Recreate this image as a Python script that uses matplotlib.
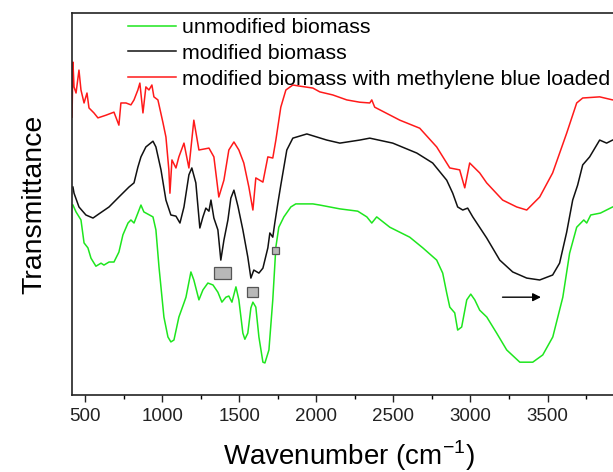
import numpy as np
import matplotlib.pyplot as plt
from matplotlib.patches import Rectangle

plt.rcParams['font.family'] = ['Liberation Sans', 'DejaVu Sans']
plt.rcParams['mathtext.fontset'] = 'custom'
plt.rcParams['mathtext.rm'] = 'Liberation Sans'

# 未改性生物质 (unmodified biomass)
wn_raw = [422, 442, 474, 494, 519, 539, 571, 604, 623, 656, 688, 720, 746, 779, 798, 818,
          843, 863, 882, 941, 960, 980, 1012, 1038, 1057, 1077, 1109, 1142, 1155, 1187, 1206,
          1239, 1265, 1297, 1330, 1362, 1388, 1414, 1433, 1453, 1479, 1498, 1524, 1537, 1556,
          1576, 1589, 1608, 1628, 1654, 1667, 1693, 1718, 1738, 1757, 1790, 1835, 1867, 1978,
          2023, 2153, 2269, 2328, 2360, 2392, 2477, 2606, 2691, 2781, 2820, 2846, 2866, 2898,
          2917, 2943, 2976, 3002, 3028, 3060, 3106, 3170, 3235, 3320, 3404, 3469, 3534, 3599,
          3643, 3689, 3735, 3754, 3780, 3843, 3922, 4000]
t_raw = [49.7, 47.9, 45.8, 39.8, 38.5, 35.8, 33.7, 34.5, 34.0, 34.8, 34.8, 37.4, 41.9, 45.0,
         45.8, 45.0, 47.6, 49.7, 47.9, 46.6, 43.2, 33.5, 20.4, 15.2, 13.9, 14.4, 20.4, 24.1,
         25.6, 32.2, 30.1, 24.9, 27.5, 29.3, 28.8, 26.9, 24.3, 25.6, 25.9, 24.3, 28.3, 24.9,
         16.2, 14.6, 16.2, 22.8, 24.3, 23.0, 15.2, 8.6, 8.4, 11.8, 24.9, 38.7, 43.9, 46.6,
         49.2, 50.0, 50.0, 49.7, 48.7, 48.1, 46.6, 45.0, 46.6, 43.9, 41.3, 38.5, 35.3, 31.9,
         26.7, 23.0, 21.5, 17.0, 17.8, 24.9, 26.4, 24.9, 22.2, 20.4, 16.2, 11.8, 8.6, 8.6,
         10.5, 15.2, 25.6, 37.1, 43.9, 45.8, 45.0, 47.1, 47.6, 49.2, 50.2]

# 改性生物质 (modified biomass)
wn_mod = [422, 429, 461, 506, 552, 591, 656, 720, 785, 818, 843, 863, 895, 941, 960, 993,
          1025, 1057, 1090, 1116, 1142, 1174, 1193, 1219, 1245, 1265, 1284, 1304, 1317, 1336,
          1362, 1381, 1401, 1427, 1446, 1466, 1492, 1524, 1556, 1576, 1595, 1628, 1654, 1686,
          1699, 1718, 1731, 1751, 1770, 1809, 1848, 1939, 2068, 2153, 2282, 2347, 2496, 2652,
          2755, 2846, 2885, 2917, 2950, 2982, 3015, 3105, 3190, 3274, 3365, 3449, 3533, 3578,
          3624, 3663, 3695, 3728, 3773, 3838, 3883, 3922, 4000]
t_mod = [54.4, 52.8, 49.2, 47.1, 46.3, 47.4, 49.2, 51.8, 54.4, 55.5, 59.6, 62.3, 64.9, 66.4,
         64.9, 58.9, 51.0, 47.1, 46.8, 45.0, 49.2, 57.6, 59.4, 55.5, 43.7, 46.6, 48.9, 48.1,
         51.0, 46.3, 43.2, 35.3, 40.5, 45.8, 51.5, 53.6, 49.4, 43.2, 36.1, 30.6, 32.7, 31.9,
         33.2, 38.5, 42.4, 41.3, 45.0, 50.2, 54.9, 64.1, 67.2, 68.3, 66.7, 65.9, 66.7, 67.2,
         65.9, 63.3, 60.7, 56.2, 52.8, 49.2, 48.4, 48.9, 46.6, 41.1, 35.3, 32.2, 30.6, 30.1,
         31.4, 34.5, 42.6, 51.0, 54.9, 60.2, 62.3, 66.7, 65.9, 66.7, 67.2]

# 负载亚甲基蓝后的改性生物质 (modified biomass with MB loaded)
wn_mb = [416, 422, 429, 442, 461, 474, 494, 513, 526, 558, 584, 636, 688, 720, 733, 766, 798,
         818, 843, 856, 876, 895, 915, 934, 947, 973, 1006, 1025, 1044, 1051, 1064, 1090, 1109,
         1142, 1174, 1206, 1239, 1304, 1336, 1368, 1401, 1433, 1466, 1498, 1530, 1563, 1589,
         1608, 1654, 1686, 1718, 1738, 1770, 1803, 1848, 1893, 1978, 2023, 2107, 2198, 2282,
         2347, 2360, 2379, 2542, 2671, 2781, 2866, 2930, 2963, 2995, 3060, 3105, 3209, 3300,
         3365, 3449, 3533, 3624, 3689, 3728, 3838, 3922, 4000]
t_mb = [72.7, 87.1, 80.6, 79.0, 85.0, 79.8, 76.4, 79.0, 75.1, 73.8, 72.5, 73.2, 74.0, 70.6,
        76.4, 76.4, 75.9, 77.2, 79.8, 81.6, 73.8, 80.6, 79.8, 81.1, 78.0, 77.2, 71.2, 67.5,
        58.9, 52.8, 61.5, 59.4, 62.3, 65.9, 59.4, 71.9, 64.1, 64.6, 62.3, 51.8, 56.2, 64.1,
        66.2, 64.1, 60.7, 54.4, 48.4, 56.8, 55.7, 62.3, 62.0, 66.7, 75.3, 79.8, 81.1, 80.8,
        80.3, 79.3, 78.5, 77.2, 76.6, 76.4, 77.2, 75.3, 71.9, 69.8, 64.9, 59.4, 58.9, 54.2,
        60.7, 58.1, 55.5, 51.0, 49.2, 48.4, 51.8, 58.1, 68.5, 76.4, 77.7, 78.0, 77.2, 77.7]

labels = ['unmodified biomass', 'modified biomass',
          'modified biomass with methylene blue loaded']
colors = ['#1ee61e', '#111111', '#ff1a1a']

# 灰色方块标记: (中心波数, 中心透过率, 宽, 高)
box_wn = [1390, 1585, 1735]
box_t = [31.85, 26.95, 37.75]
box_w = [109, 69, 49]
box_h = [3.1, 2.7, 1.7]

# 箭头
arrow_wn = [3190, 3475]
arrow_t = [25.6, 25.6]

fig = plt.figure(figsize=(6.13, 4.72), dpi=100)
ax = fig.add_axes([0.118, 0.163, 0.901, 0.81])

for w, t, c, lab in zip([wn_raw, wn_mod, wn_mb], [t_raw, t_mod, t_mb], colors, labels):
    ax.plot(w, t, color=c, lw=1.1, label=lab)

for cx, cy, bw, bh in zip(box_wn, box_t, box_w, box_h):
    ax.add_patch(Rectangle((cx - bw / 2, cy - bh / 2), bw, bh, facecolor='#b8b8b8',
                           edgecolor='#555555', lw=0.9, zorder=5))

ax.annotate('', xy=(arrow_wn[1], arrow_t[1]), xytext=(arrow_wn[0], arrow_t[0]),
            arrowprops=dict(arrowstyle='-|>', color='black', lw=1.0, mutation_scale=12))

ax.set_xlim(418, 4000)
ax.set_ylim(0, 100)
ax.set_xticks(np.arange(500, 3501, 500))
ax.set_xticks(np.arange(750, 4001, 500), minor=True)
ax.set_yticks([])
ax.tick_params(axis='x', which='major', direction='out', length=5, width=1, labelsize=13.5,
               pad=4, colors='#222222')
ax.tick_params(axis='x', which='minor', direction='out', length=3, width=1)
ax.spines['right'].set_visible(False)
for s in ['left', 'bottom', 'top']:
    ax.spines[s].set_linewidth(1.2)
    ax.spines[s].set_color('#222222')

ax.set_xlabel(r'Wavenumber (cm$^{-1}$)', fontsize=20, labelpad=10)
ax.set_ylabel('Transmittance', fontsize=20.5, labelpad=18)

ax.legend(loc='upper left', bbox_to_anchor=(128 / 613, 1 - 18 / 472),
          bbox_transform=fig.transFigure, frameon=False, fontsize=15.3,
          handlelength=2.26, handletextpad=0.28, labelspacing=0.32, borderpad=0,
          borderaxespad=0)

fig.savefig('out.png', dpi=100)
